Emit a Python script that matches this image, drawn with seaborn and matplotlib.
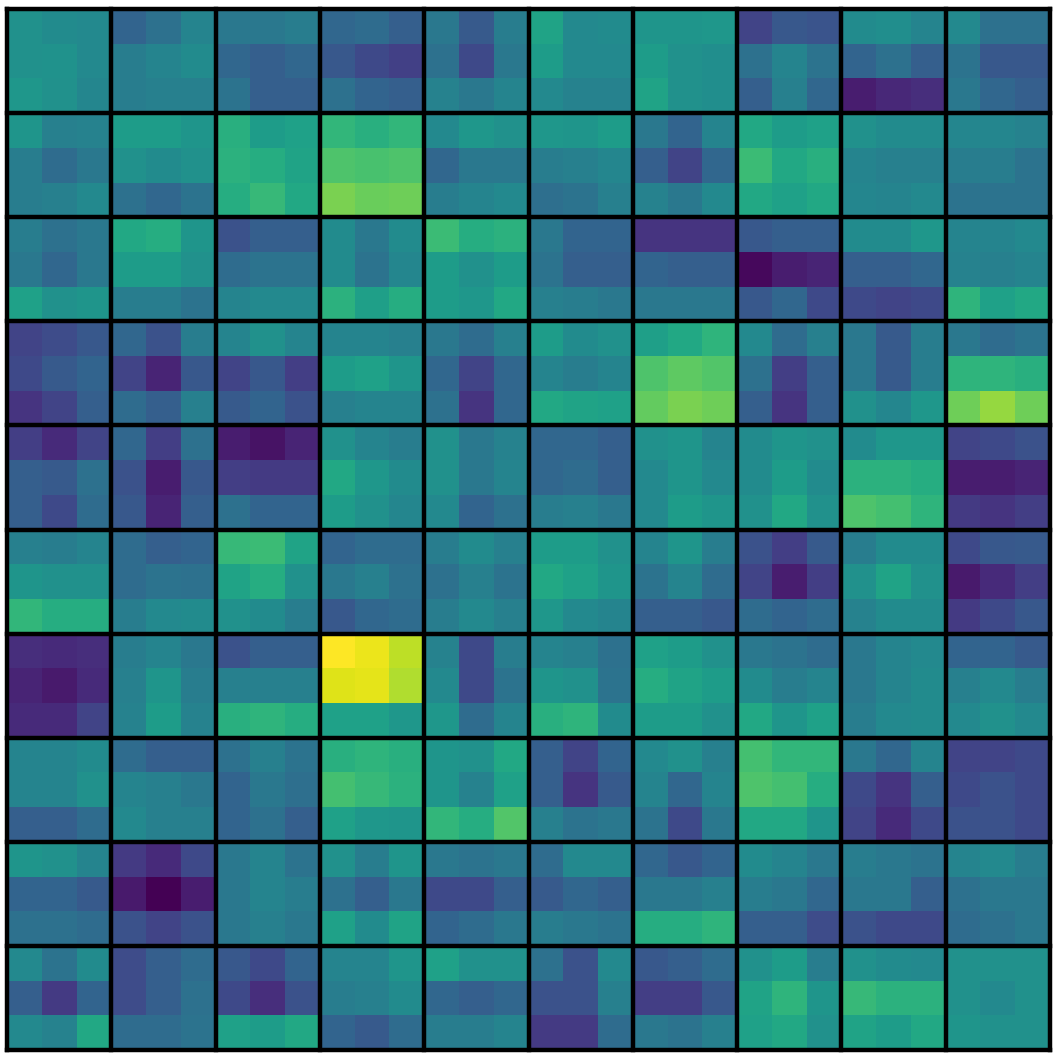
import numpy as np
import matplotlib
matplotlib.use("Agg")
import matplotlib.pyplot as plt
import seaborn as sns

# Each block row: 3 rows x 30 columns (10 blocks of 3x3)
block_row_0 = [
    [0.50,0.48,0.47, 0.32,0.37,0.45, 0.40,0.40,0.42, 0.33,0.35,0.30, 0.40,0.28,0.42, 0.58,0.47,0.48, 0.52,0.52,0.53, 0.20,0.27,0.26, 0.48,0.49,0.45, 0.47,0.37,0.37],
    [0.50,0.51,0.47, 0.42,0.45,0.48, 0.33,0.30,0.33, 0.27,0.22,0.19, 0.37,0.22,0.40, 0.55,0.47,0.47, 0.55,0.50,0.49, 0.37,0.45,0.38, 0.32,0.37,0.30, 0.38,0.27,0.27],
    [0.53,0.50,0.46, 0.42,0.43,0.43, 0.38,0.30,0.30, 0.37,0.32,0.30, 0.44,0.40,0.45, 0.47,0.44,0.44, 0.58,0.50,0.49, 0.30,0.43,0.33, 0.08,0.11,0.13, 0.40,0.33,0.30],
]
block_row_1 = [
    [0.52,0.43,0.44, 0.55,0.55,0.52, 0.63,0.55,0.57, 0.66,0.63,0.66, 0.47,0.53,0.50, 0.53,0.52,0.55, 0.40,0.32,0.45, 0.60,0.55,0.57, 0.50,0.48,0.48, 0.46,0.46,0.44],
    [0.42,0.35,0.40, 0.50,0.48,0.50, 0.64,0.62,0.58, 0.72,0.71,0.72, 0.33,0.40,0.40, 0.42,0.43,0.46, 0.30,0.20,0.33, 0.68,0.60,0.63, 0.45,0.43,0.43, 0.42,0.42,0.38],
    [0.42,0.43,0.47, 0.37,0.33,0.38, 0.62,0.67,0.60, 0.80,0.77,0.78, 0.42,0.45,0.47, 0.36,0.38,0.43, 0.44,0.40,0.47, 0.60,0.57,0.60, 0.46,0.45,0.47, 0.38,0.38,0.38],
]
block_row_2 = [
    [0.42,0.37,0.40, 0.60,0.62,0.52, 0.25,0.30,0.30, 0.48,0.40,0.48, 0.68,0.62,0.64, 0.40,0.32,0.32, 0.15,0.15,0.15, 0.27,0.30,0.30, 0.48,0.48,0.53, 0.45,0.45,0.47],
    [0.40,0.33,0.40, 0.55,0.55,0.50, 0.35,0.38,0.38, 0.48,0.38,0.46, 0.55,0.50,0.55, 0.38,0.30,0.30, 0.32,0.30,0.30, 0.02,0.08,0.10, 0.30,0.30,0.33, 0.44,0.43,0.45],
    [0.57,0.50,0.52, 0.42,0.42,0.38, 0.45,0.47,0.47, 0.64,0.56,0.62, 0.55,0.53,0.60, 0.43,0.42,0.40, 0.40,0.40,0.40, 0.27,0.33,0.22, 0.22,0.20,0.22, 0.65,0.57,0.60],
]
block_row_3 = [
    [0.20,0.23,0.27, 0.33,0.25,0.42, 0.45,0.50,0.45, 0.45,0.45,0.43, 0.40,0.35,0.43, 0.55,0.48,0.50, 0.56,0.60,0.65, 0.47,0.35,0.43, 0.40,0.28,0.42, 0.40,0.35,0.38],
    [0.22,0.28,0.32, 0.20,0.10,0.27, 0.20,0.27,0.18, 0.55,0.57,0.52, 0.33,0.20,0.33, 0.45,0.42,0.45, 0.72,0.75,0.73, 0.37,0.18,0.30, 0.40,0.28,0.42, 0.65,0.65,0.63],
    [0.15,0.20,0.30, 0.35,0.30,0.43, 0.28,0.32,0.25, 0.43,0.45,0.45, 0.37,0.15,0.33, 0.60,0.58,0.57, 0.76,0.80,0.78, 0.30,0.15,0.30, 0.50,0.46,0.53, 0.78,0.84,0.78],
]
block_row_4 = [
    [0.18,0.12,0.20, 0.33,0.18,0.37, 0.08,0.05,0.10, 0.50,0.45,0.42, 0.50,0.40,0.44, 0.33,0.33,0.30, 0.50,0.52,0.45, 0.48,0.52,0.50, 0.48,0.53,0.53, 0.20,0.22,0.25],
    [0.30,0.28,0.37, 0.25,0.08,0.27, 0.18,0.17,0.17, 0.60,0.53,0.48, 0.50,0.40,0.45, 0.33,0.35,0.30, 0.47,0.52,0.47, 0.48,0.55,0.48, 0.64,0.64,0.62, 0.08,0.08,0.10],
    [0.30,0.22,0.35, 0.27,0.10,0.30, 0.37,0.32,0.32, 0.55,0.50,0.46, 0.47,0.32,0.37, 0.42,0.43,0.40, 0.47,0.55,0.52, 0.50,0.60,0.50, 0.72,0.70,0.65, 0.17,0.15,0.18],
]
block_row_5 = [
    [0.43,0.42,0.45, 0.35,0.30,0.32, 0.67,0.68,0.58, 0.32,0.35,0.35, 0.42,0.48,0.43, 0.55,0.55,0.50, 0.45,0.52,0.42, 0.25,0.18,0.28, 0.42,0.48,0.48, 0.22,0.27,0.28],
    [0.52,0.50,0.50, 0.35,0.38,0.37, 0.58,0.62,0.50, 0.40,0.43,0.37, 0.37,0.43,0.38, 0.60,0.57,0.52, 0.38,0.45,0.35, 0.20,0.08,0.18, 0.50,0.58,0.50, 0.07,0.12,0.18],
    [0.66,0.62,0.62, 0.42,0.47,0.48, 0.50,0.48,0.42, 0.27,0.33,0.35, 0.42,0.47,0.43, 0.53,0.47,0.45, 0.30,0.30,0.27, 0.35,0.32,0.35, 0.44,0.48,0.48, 0.17,0.22,0.27],
]
block_row_6 = [
    [0.13,0.12,0.13, 0.42,0.45,0.40, 0.25,0.30,0.30, 1.00,0.97,0.90, 0.44,0.22,0.42, 0.45,0.43,0.37, 0.57,0.55,0.50, 0.40,0.38,0.35, 0.40,0.45,0.47, 0.32,0.32,0.28],
    [0.10,0.07,0.12, 0.43,0.52,0.42, 0.43,0.43,0.43, 0.95,0.96,0.88, 0.47,0.22,0.38, 0.52,0.50,0.38, 0.62,0.58,0.55, 0.48,0.42,0.45, 0.40,0.45,0.48, 0.43,0.47,0.42],
    [0.12,0.12,0.20, 0.44,0.55,0.44, 0.63,0.65,0.62, 0.57,0.57,0.53, 0.53,0.35,0.45, 0.63,0.65,0.48, 0.55,0.55,0.50, 0.60,0.52,0.57, 0.42,0.47,0.48, 0.47,0.50,0.47],
]
block_row_7 = [
    [0.45,0.45,0.48, 0.35,0.30,0.30, 0.37,0.43,0.38, 0.63,0.65,0.63, 0.52,0.50,0.60, 0.30,0.20,0.32, 0.47,0.50,0.43, 0.70,0.66,0.66, 0.40,0.33,0.45, 0.20,0.20,0.22],
    [0.45,0.45,0.50, 0.45,0.43,0.40, 0.32,0.40,0.36, 0.70,0.67,0.64, 0.52,0.44,0.57, 0.30,0.15,0.28, 0.45,0.33,0.45, 0.72,0.70,0.62, 0.22,0.15,0.30, 0.22,0.25,0.22],
    [0.30,0.30,0.35, 0.47,0.43,0.43, 0.32,0.37,0.30, 0.57,0.53,0.52, 0.66,0.62,0.73, 0.43,0.38,0.40, 0.38,0.22,0.40, 0.60,0.60,0.52, 0.20,0.12,0.22, 0.25,0.25,0.22],
]
block_row_8 = [
    [0.52,0.50,0.45, 0.17,0.12,0.22, 0.40,0.45,0.38, 0.50,0.42,0.52, 0.40,0.38,0.40, 0.35,0.47,0.47, 0.33,0.27,0.32, 0.48,0.45,0.40, 0.42,0.40,0.38, 0.45,0.47,0.42],
    [0.32,0.32,0.28, 0.07,0.00,0.08, 0.40,0.45,0.42, 0.37,0.30,0.40, 0.22,0.22,0.30, 0.28,0.33,0.30, 0.40,0.40,0.43, 0.42,0.40,0.33, 0.40,0.40,0.30, 0.37,0.40,0.40],
    [0.37,0.37,0.35, 0.25,0.20,0.25, 0.40,0.43,0.40, 0.57,0.48,0.58, 0.32,0.35,0.40, 0.42,0.40,0.38, 0.62,0.62,0.65, 0.30,0.30,0.23, 0.25,0.22,0.22, 0.35,0.37,0.40],
]
block_row_9 = [
    [0.47,0.38,0.48, 0.23,0.30,0.35, 0.27,0.22,0.32, 0.45,0.45,0.52, 0.57,0.50,0.50, 0.37,0.25,0.47, 0.27,0.30,0.35, 0.50,0.55,0.42, 0.50,0.48,0.47, 0.50,0.50,0.50],
    [0.30,0.17,0.32, 0.23,0.30,0.37, 0.22,0.13,0.25, 0.42,0.43,0.48, 0.33,0.30,0.33, 0.25,0.25,0.43, 0.18,0.18,0.27, 0.58,0.65,0.52, 0.67,0.64,0.64, 0.50,0.47,0.50],
    [0.47,0.44,0.60, 0.35,0.35,0.38, 0.57,0.55,0.60, 0.32,0.28,0.35, 0.42,0.42,0.45, 0.17,0.17,0.35, 0.40,0.38,0.43, 0.57,0.60,0.50, 0.58,0.55,0.60, 0.52,0.50,0.50],
]

block_rows = [block_row_0, block_row_1, block_row_2, block_row_3, block_row_4,
              block_row_5, block_row_6, block_row_7, block_row_8, block_row_9]
data = np.vstack([np.array(b) for b in block_rows])
n_blocks = 10
block = 3

fig = plt.figure(figsize=(10.56, 10.56), dpi=100)
ax = fig.add_axes([7 / 1056, 6 / 1056, 1043 / 1056, 1041 / 1056])
sns.heatmap(data, ax=ax, cmap="viridis", vmin=0, vmax=1, cbar=False,
            xticklabels=False, yticklabels=False, square=False)
for k in range(n_blocks + 1):
    ax.axhline(k * block, color="black", lw=3.2, clip_on=False)
    ax.axvline(k * block, color="black", lw=3.2, clip_on=False)
ax.set_xticks([])
ax.set_yticks([])
fig.savefig("out.png", dpi=100)
